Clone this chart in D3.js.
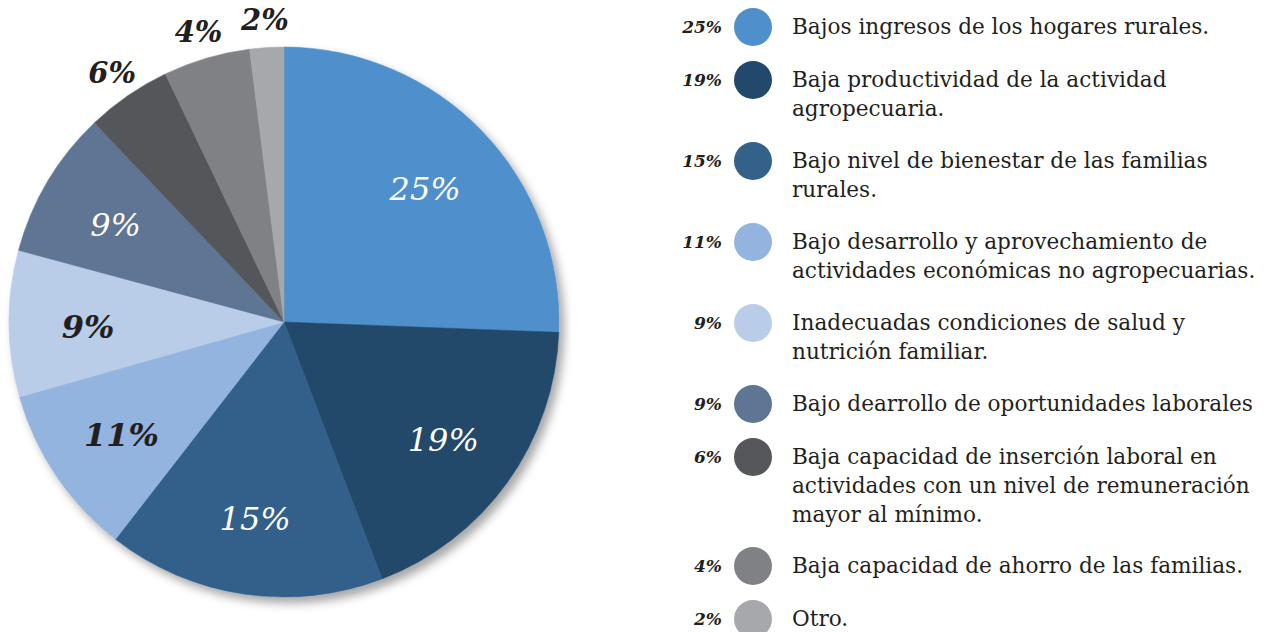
<!DOCTYPE html>
<html><head><meta charset="utf-8">
<script src="https://cdn.jsdelivr.net/npm/d3@7"></script>
<style>
html,body{margin:0;padding:0;background:#fff;}
svg{display:block;}
</style></head>
<body>
<svg id="chart" width="1277" height="632"></svg>
<script>
// ---- data ----
const categories = [
  "Bajos ingresos de los hogares rurales.",
  "Baja productividad de la actividad agropecuaria.",
  "Bajo nivel de bienestar de las familias rurales.",
  "Bajo desarrollo y aprovechamiento de actividades económicas no agropecuarias.",
  "Inadecuadas condiciones de salud y nutrición familiar.",
  "Bajo dearrollo de oportunidades laborales",
  "Baja capacidad de inserción laboral en actividades con un nivel de remuneración mayor al mínimo.",
  "Baja capacidad de ahorro de las familias.",
  "Otro."
];
const legendLines = [
  ["Bajos ingresos de los hogares rurales."],
  ["Baja productividad de la actividad", "agropecuaria."],
  ["Bajo nivel de bienestar de las familias", "rurales."],
  ["Bajo desarrollo y aprovechamiento de", "actividades económicas no agropecuarias."],
  ["Inadecuadas condiciones de salud y", "nutrición familiar."],
  ["Bajo dearrollo de oportunidades laborales"],
  ["Baja capacidad de inserción laboral en", "actividades con un nivel de remuneración", "mayor al mínimo."],
  ["Baja capacidad de ahorro de las familias."],
  ["Otro."]
];
// slice sizes as drawn in the picture (percent)
const values = [25.6, 18.6, 16.3, 10.1, 8.6, 8.7, 5.0, 5.1, 2.0];
const labels = ["25%", "19%", "15%", "11%", "9%", "9%", "6%", "4%", "2%"];
const colors = ["#4f8fcb", "#22486b", "#33618a", "#92b4de", "#b9cde9", "#5e7594", "#55575a", "#7f8184", "#a6a8ab"];
const labelInside = [true, true, true, true, true, true, false, false, false];
const labelColor = ["#ffffff", "#ffffff", "#ffffff", "#231f20", "#231f20", "#ffffff", "#231f20", "#231f20", "#231f20"];

// ---- layout ----
const W = 1277, H = 632;
const cx = 284, cy = 322, R = 275;
const svg = d3.select("#chart");
const serif = "'DejaVu Serif', 'Liberation Serif', serif";
const ink = "#231f20";

const defs = svg.append("defs");
const f = defs.append("filter").attr("id", "shadow")
  .attr("x", "-10%").attr("y", "-10%").attr("width", "125%").attr("height", "125%");
f.append("feDropShadow").attr("dx", 5).attr("dy", 6).attr("stdDeviation", 5)
  .attr("flood-color", "#000").attr("flood-opacity", 0.35);

const pie = d3.pie().sort(null).value(d => d);
const arcs = pie(values);
const arc = d3.arc().innerRadius(0).outerRadius(R);
const inArc = d3.arc().innerRadius(196).outerRadius(196);
const outArc = d3.arc().innerRadius(303).outerRadius(303);

const g = svg.append("g").attr("transform", `translate(${cx},${cy})`);
const slices = g.append("g").attr("filter", "url(#shadow)");
slices.selectAll("path").data(arcs).join("path")
  .attr("d", arc)
  .attr("fill", (d, i) => colors[i])
  .attr("stroke", (d, i) => colors[i])
  .attr("stroke-width", 0.5);

g.selectAll("text.lab").data(arcs).join("text")
  .attr("class", "lab")
  .attr("transform", (d, i) => `translate(${(labelInside[i] ? inArc : outArc).centroid(d)})`)
  .attr("text-anchor", "middle")
  .attr("dy", (d, i) => labelInside[i] ? "0.45em" : "0.36em")
  .attr("font-family", serif)
  .attr("font-style", "italic")
  .attr("font-weight", (d, i) => labelColor[i] === "#ffffff" ? "normal" : "bold")
  .attr("font-size", (d, i) => labelInside[i] ? 32 : 29)
  .attr("fill", (d, i) => labelColor[i])
  .text((d, i) => labels[i]);

// ---- legend ----
const legX = 753, textX = 792, lineH = 29;
let y = 27;
const rows = [];
legendLines.forEach((lines, i) => {
  rows.push(y);
  y += 53 + (lines.length - 1) * 28;
});
const leg = svg.append("g");
const row = leg.selectAll("g").data(legendLines).join("g")
  .attr("transform", (d, i) => `translate(0,${rows[i]})`);
row.append("circle").attr("cx", legX).attr("cy", 0).attr("r", 19)
  .attr("fill", (d, i) => colors[i]);
row.append("text").attr("x", 722).attr("y", 6)
  .attr("text-anchor", "end")
  .attr("font-family", serif).attr("font-style", "italic").attr("font-weight", "bold")
  .attr("font-size", 17).attr("fill", ink)
  .text((d, i) => labels[i]);
row.append("text")
  .attr("font-family", serif).attr("font-size", 21.6).attr("fill", ink)
  .selectAll("tspan").data(d => d).join("tspan")
  .attr("x", textX).attr("y", (d, j) => 7 + j * lineH)
  .text(d => d);
</script>
</body></html>
